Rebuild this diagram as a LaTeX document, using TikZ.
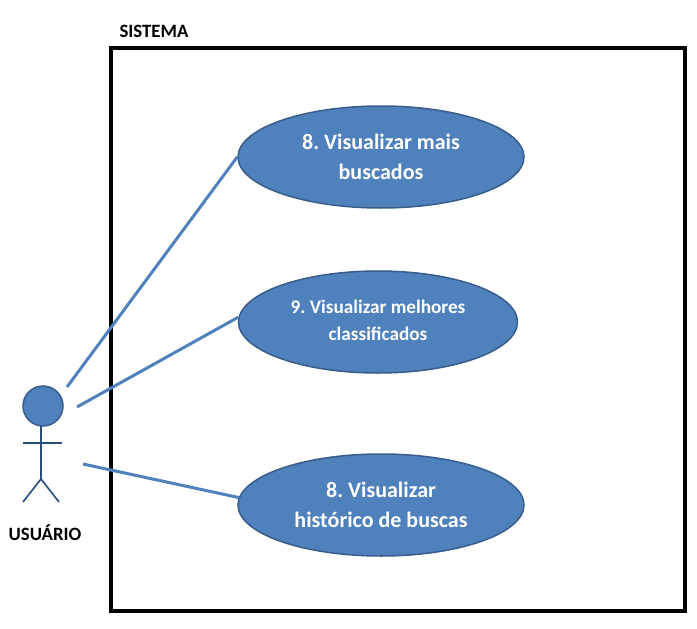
\documentclass[tikz,border=0pt]{standalone}
\usepackage{fontspec}
\setmainfont{Carlito}
\usetikzlibrary{positioning,shapes.geometric}
\definecolor{ucfill}{HTML}{4F81BD}
\definecolor{ucedge}{HTML}{385D8A}
\definecolor{stickcol}{HTML}{254E7E}
\frenchspacing

\begin{document}
\begin{tikzpicture}[
  x=1pt, y=-1pt,
  font=\bfseries,
  usecase/.style={draw=ucedge, fill=ucfill, ellipse, line width=1.5pt, inner sep=0pt, text=white, align=center},
  link/.style={draw=ucfill, line width=3pt},
  stick/.style={draw=stickcol, line width=1.6pt},
  title/.style={font=\bfseries\fontsize{18.8}{22}\selectfont}
]
\useasboundingbox (0,0) rectangle (697,629);

\node[draw=black, line width=4.8pt, outer sep=0pt, minimum width=574pt, minimum height=563pt, anchor=north west] (sistema) at (111,48) {};
\node[title, anchor=west] (lblsistema) at (116,31) {SISTEMA};

\node[usecase, minimum width=286pt, minimum height=102pt, font=\bfseries\fontsize{22}{29.5}\selectfont] (uc1) at (381,157) {8. Visualizar mais\\buscados};
\node[usecase, minimum width=279pt, minimum height=102pt] (uc2) at (378,322) {};
\node[text=white, align=center, font=\bfseries\fontsize{19.2}{27}\selectfont] (uc2txt) at (378,320) {9. Visualizar melhores\\classificados};
\node[usecase, minimum width=286pt, minimum height=102pt, font=\bfseries\fontsize{22}{29.5}\selectfont] (uc3) at (381,505) {8. Visualizar\\histórico de buscas};

% actor
\node[circle, draw=ucedge, fill=ucfill, line width=1.5pt, minimum size=40pt, inner sep=0pt] (head) at (43,406) {};
\coordinate (neck) at (41,426);
\coordinate (hip) at (41,479);
\coordinate (armL) at (23,443);
\coordinate (armR) at (62,443);
\coordinate (footL) at (23,502);
\coordinate (footR) at (59,502);
\draw[stick] (neck) -- (hip);
\draw[stick] (armL) -- (armR);
\draw[stick] (footL) -- (hip) -- (footR);
\node[title] (lblusuario) at (45,533) {USUÁRIO};

\coordinate (a1) at (67,387);
\coordinate (a2) at (77,407);
\coordinate (a3) at (83,464);
\draw[link] (a1) -- (uc1.west);
\draw[link] (a2) -- (uc2.178);
\draw[link] (a3) -- (uc3.177);
\end{tikzpicture}
\end{document}
